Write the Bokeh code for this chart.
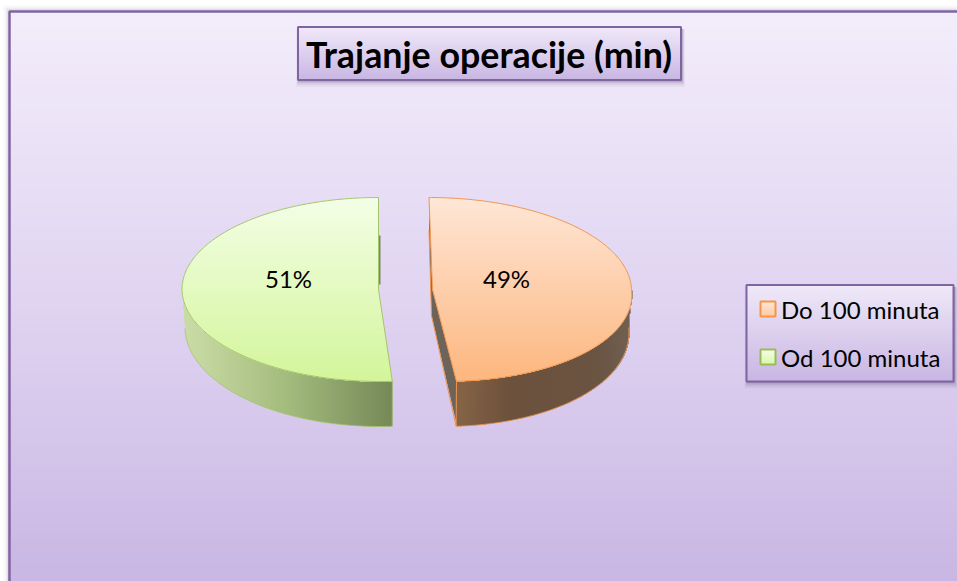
import numpy as np
from bokeh.core.properties import value
from bokeh.embed import file_html
from bokeh.models import ColumnDataSource, Range1d
from bokeh.plotting import figure
from bokeh.resources import INLINE

TITLE = "Trajanje operacije (min)"
categories = ["Do 100 minuta", "Od 100 minuta"]
shares = [49, 51]

W, H = 957, 581
BORDER = "#8064a2"
p = figure(width=W, height=H, x_range=Range1d(0, W), y_range=Range1d(H, 0),
           output_backend="svg", toolbar_location=None, min_border=0)
p.axis.visible = False
p.grid.visible = False
p.outline_line_color = None
FONT = value("Lato")


def mix(c0, c1, t):
    t = float(np.clip(t, 0, 1))
    a = [int(c0[i:i + 2], 16) for i in (1, 3, 5)]
    b = [int(c1[i:i + 2], 16) for i in (1, 3, 5)]
    return "#%02x%02x%02x" % tuple(round(u + (v - u) * t) for u, v in zip(a, b))


def ramp(stops, t):
    pos = [s[0] for s in stops]
    t = float(np.clip(t, pos[0], pos[-1]))
    i = min(int(np.searchsorted(pos, t, side="right")) - 1, len(stops) - 2)
    return mix(stops[i][1], stops[i + 1][1], (t - pos[i]) / (pos[i + 1] - pos[i]))


def vgrad(x0, x1, y0, y1, stops, step=2.0):
    ys = np.arange(y0, y1, step)
    src = ColumnDataSource(dict(
        l=[x0] * len(ys), r=[x1] * len(ys), t=ys, b=np.minimum(ys + step + 0.6, y1),
        c=[ramp(stops, (y - y0) / (y1 - y0)) for y in ys]))
    p.quad(left="l", right="r", top="t", bottom="b", fill_color="c", line_color=None, source=src)


def box(x0, x1, y0, y1, stops, lw=2):
    for d, a in ((7, .05), (5, .08), (3, .12), (1.5, .14)):
        p.quad(left=x0 - d * .4 + 1, right=x1 + d * .4 + 1, top=y0 + 2, bottom=y1 + d,
               fill_color="#3a2d50", fill_alpha=a, line_color=None)
    vgrad(x0, x1, y0, y1, stops)
    p.quad(left=x0, right=x1, top=y0, bottom=y1, fill_color=None, line_color=BORDER, line_width=lw)


def spans(poly, step=1.0, axis=1):
    a = poly[:, axis]
    o = poly[:, 1 - axis]
    out = []
    for v in np.arange(a.min(), a.max(), step):
        m = v + step / 2
        i, j = a, np.roll(a, -1)
        hit = (i <= m) != (j <= m)
        if not hit.any():
            continue
        xs = o[hit] + (m - i[hit]) / (j[hit] - i[hit]) * (np.roll(o, -1)[hit] - o[hit])
        out.append((v, xs.min(), xs.max()))
    return np.array(out)


def fill_rows(poly, stops):
    s = spans(poly, 1.0, 1)
    y0, y1 = poly[:, 1].min(), poly[:, 1].max()
    src = ColumnDataSource(dict(l=s[:, 1], r=s[:, 2], t=s[:, 0], b=s[:, 0] + 1.5,
                                c=[ramp(stops, (v - y0) / (y1 - y0)) for v in s[:, 0]]))
    p.quad(left="l", right="r", top="t", bottom="b", fill_color="c", line_color=None, source=src)


def fill_cols(poly, stops):
    s = spans(poly, 1.0, 0)
    x0, x1 = poly[:, 0].min(), poly[:, 0].max()
    src = ColumnDataSource(dict(l=s[:, 0], r=s[:, 0] + 1.5, t=s[:, 1], b=s[:, 2],
                                c=[ramp(stops, (v - x0) / (x1 - x0)) for v in s[:, 0]]))
    p.quad(left="l", right="r", top="t", bottom="b", fill_color="c", line_color=None, source=src)


# ---- chart area
for d, a in ((5, .03), (3, .05), (1.5, .08)):
    p.quad(left=8 - d, right=W, top=10 - d, bottom=H, fill_color="#3a2d50", fill_alpha=a, line_color=None)
vgrad(8, W + 2, 10, H + 10, [(0, "#f3edfb"), (.5, "#e0d4f1"), (1, "#c8b5e3")])
p.quad(left=9, right=W + 5, top=11, bottom=H + 5, fill_color=None, line_color=BORDER, line_width=2.5)

# ---- pie
CY, RY = 289.0, 92.0
slices = [
    dict(cx=432.0, rx=199.0, top_shift=-3.5, bot_shift=11.5, start=0.0, end=shares[0] / sum(shares),
         top=[(0, "#fee6d6"), (1, "#fdb67e")],
         side=[(0, "#83603f"), (.3, "#684c34"), (.8, "#664f3b"), (1, "#6c5c4c")],
         cut="#6c635b", line="#f0954c", cut_first=False, label=(506, 278)),
    dict(cx=378.0, rx=196.5, top_shift=0.0, bot_shift=1.5, start=shares[0] / sum(shares), end=1.0,
         top=[(0, "#f3fee6"), (1, "#d3f59a")],
         side=[(0, "#cbdda6"), (.5, "#a3bb7c"), (1, "#738855")],
         cut="#7a8a5e", line="#a5c56b", cut_first=True, label=(288, 278)),
]


def project(s, th, lower=False):
    X, Y = np.sin(th), np.cos(th)
    x = s["cx"] + s["rx"] * X + s["top_shift"] * np.maximum(Y, 0) - s["bot_shift"] * np.minimum(Y, 0)
    y = CY - RY * Y
    if lower:
        x = s["cx"] + (x - s["cx"]) * 0.985
        y = y + 38 + 7 * np.maximum(-Y, 0)
    return x, y


for s, share, name in zip(slices, shares, categories):
    th = 2 * np.pi * np.linspace(s["start"], s["end"], 240)
    ax, ay = project(s, th)
    lx, ly = project(s, th, True)

    if s["cut_first"]:
        wall = np.array([[s["cx"], CY - RY + 38], [s["cx"] + 2, CY - RY + 38], [s["cx"] + 2, CY - 5], [s["cx"], CY - 5]])
    else:
        wall = np.array([[ax[0], ay[0] + 33], [ax[0], ay[0]], [s["cx"], CY], [ax[-1], ay[-1]],
                         [lx[-1] + 1, ly[-1]], [s["cx"] - 1, CY + 26]])
    p.patch(wall[:, 0], wall[:, 1], fill_color=s["cut"], line_color=None)

    front = np.cos(th) <= 0
    wx = np.concatenate([ax[front], lx[front][::-1]])
    wy = np.concatenate([ay[front], ly[front][::-1]])
    fill_cols(np.column_stack([wx, wy]), s["side"])
    p.line(lx[front], ly[front], line_color=s["line"], line_width=1, line_alpha=.8)
    if s["cut_first"]:
        p.line([ax[0], lx[0]], [ay[0], ly[0]], line_color=s["line"], line_width=1, line_alpha=.6)
    else:
        p.line([ax[-1], lx[-1]], [ay[-1], ly[-1]], line_color=s["line"], line_width=1)
        p.line([ax[0], s["cx"] - 1, lx[-1]], [ay[0] + 33, CY + 26, ly[-1]], line_color=s["line"], line_width=1)

    tx = np.concatenate([ax, [s["cx"]]])
    ty = np.concatenate([ay, [CY]])
    fill_rows(np.column_stack([tx, ty]), s["top"])
    p.patch(tx, ty, fill_color=None, line_color=s["line"], line_width=1)
    p.text([s["label"][0]], [s["label"][1]], text=[f"{share}%"], text_font=FONT, text_font_size="24px",
           text_align="center", text_baseline="middle", text_color="#000000")

# ---- title
box(297.5, 680.5, 26.5, 79.5, [(0, "#efe8f8"), (1, "#c8b5e3")])
p.text([488.5], [54], text=[TITLE], text_font=FONT, text_font_size="35.8px", text_font_style="bold",
       text_align="center", text_baseline="middle", text_color="#000000")

# ---- legend
box(746, 953, 284.5, 381, [(0, "#efe8f8"), (1, "#c8b5e3")])
swatches = [
    (301, [(0, "#fee6d6"), (1, "#fdc8a0")], "#f79646"),
    (349, [(0, "#f3fee6"), (1, "#d8f7a8")], "#9bbb59"),
]
for name, (sy, st, line) in zip(categories, swatches):
    vgrad(760, 775, sy, sy + 15, st, 1.0)
    p.quad(left=760, right=775, top=sy, bottom=sy + 15, fill_color=None, line_color=line, line_width=2)
    p.text([780.5], [sy + 7.5], text=[name], text_font=FONT, text_font_size="24px",
           text_align="left", text_baseline="middle", text_color="#000000")

open("out.html", "w").write(file_html(p, INLINE))
